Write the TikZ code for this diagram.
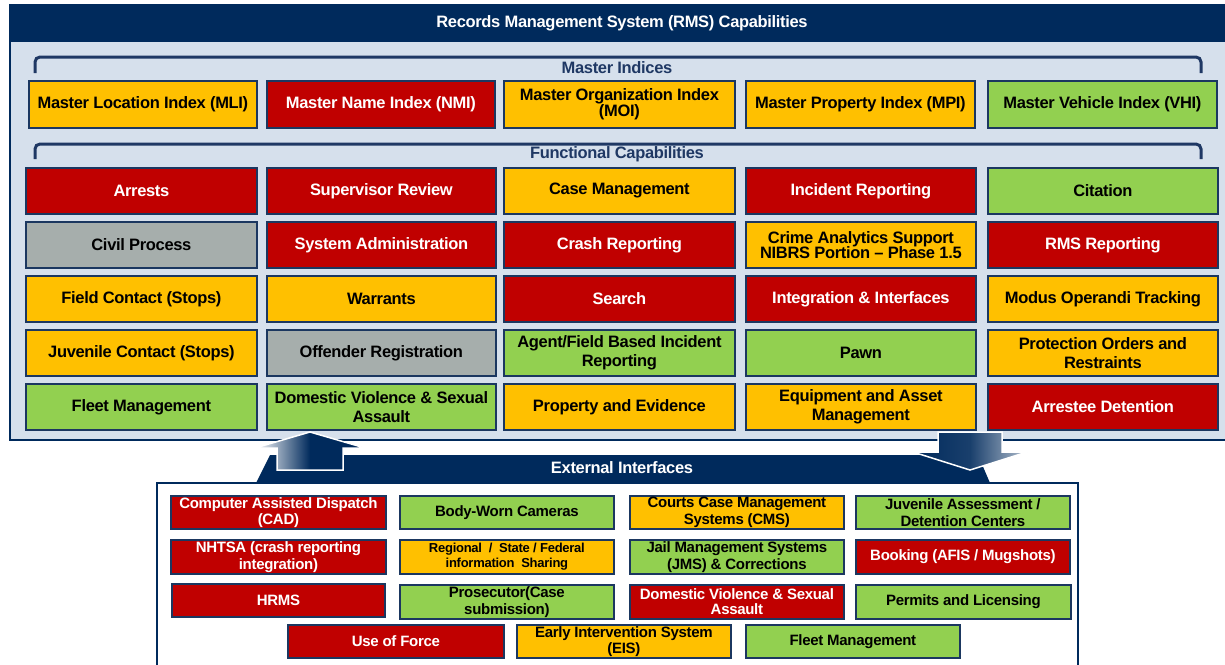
\documentclass[tikz,border=0pt]{standalone}
\usepackage{fontspec}
\setmainfont{Liberation Sans}[LetterSpace=-2]
\definecolor{redc}{HTML}{C00000}
\definecolor{yelc}{HTML}{FFC000}
\definecolor{grnc}{HTML}{92D050}
\definecolor{grayc}{HTML}{A6AEAC}
\definecolor{navyc}{HTML}{002A5C}
\definecolor{bordc}{HTML}{1B3760}
\definecolor{panelc}{HTML}{D6E0EC}
\definecolor{brkc}{HTML}{1F3864}
\newcommand\mybox[7]{\node[#1,minimum width=#5pt,minimum height=#6pt] (#2) at (#3,#4) {#7};}
\begin{document}
\begin{tikzpicture}[x=1pt,y=-1pt,
  box/.style={draw=bordc, line width=1.8pt, inner sep=0pt, align=center, anchor=north west,
    font=\bfseries\fontsize{16.5}{19.5}\selectfont},
  rbox/.style={box, fill=redc, text=white},
  ybox/.style={box, fill=yelc, text=black},
  gbox/.style={box, fill=grnc, text=black},
  gybox/.style={box, fill=grayc, text=black},
  ext/.style={font=\bfseries\fontsize{15}{16.5}\selectfont},
  tight/.style={font=\bfseries\fontsize{16.5}{15.5}\selectfont},
  title/.style={font=\bfseries\fontsize{16.5}{18}\selectfont, text=white, inner sep=0pt},
  sect/.style={font=\bfseries\fontsize{16.5}{18}\selectfont, text=brkc, inner sep=0pt},
  brk/.style={draw=brkc, line width=3pt, rounded corners=5pt},
  arrowout/.style={draw=white, line width=1.5pt}
]
\useasboundingbox (0,0) rectangle (1225,664);
% top panel
\path[fill=panelc, draw=navyc, line width=2pt] (10,5) rectangle (1228,440);
\path[fill=navyc] (10,5) rectangle (1228,42);
\node[title] (ttl) at (622,23) {Records Management System (RMS) Capabilities};
% brackets
\draw[brk] (35,73) |- (1201,57) -- (1201,73);
\node[sect] (mi) at (617,68) {Master Indices};
\draw[brk] (35,159) |- (1201,144) -- (1201,159);
\node[sect] (fc) at (617,154) {Functional Capabilities};
% master indices
\mybox{ybox}{mli}{28}{80}{228}{47}{Master Location Index (MLI)}
\mybox{rbox}{nmi}{266}{80}{228}{47}{Master Name Index (NMI)}
\mybox{ybox,tight}{moi}{503}{80}{231}{47}{Master Organization Index\\(MOI)}
\mybox{ybox}{mpi}{745}{80}{229}{47}{Master Property Index (MPI)}
\mybox{gbox}{vhi}{987}{80}{229}{47}{Master Vehicle Index (VHI)}
% functional row 1
\mybox{rbox}{f11}{25}{167}{231}{46}{Arrests}
\mybox{rbox}{f12}{266}{167}{229}{46}{Supervisor Review}
\mybox{ybox}{f13}{503}{167}{231}{46}{Case Management}
\mybox{rbox}{f14}{745}{167}{230}{46}{Incident Reporting}
\mybox{gbox}{f15}{987}{167}{230}{46}{Citation}
% row 2
\mybox{gybox}{f21}{25}{221}{231}{46}{Civil Process}
\mybox{rbox}{f22}{266}{221}{229}{46}{System Administration}
\mybox{rbox}{f23}{503}{221}{231}{46}{Crash Reporting}
\mybox{ybox,tight}{f24}{745}{221}{230}{46}{Crime Analytics Support\\NIBRS Portion -- Phase 1.5}
\mybox{rbox}{f25}{987}{221}{230}{46}{RMS Reporting}
% row 3
\mybox{ybox}{f31}{25}{275}{231}{46}{Field Contact (Stops)}
\mybox{ybox}{f32}{266}{275}{229}{46}{Warrants}
\mybox{rbox}{f33}{503}{275}{231}{46}{Search}
\mybox{rbox}{f34}{745}{275}{230}{46}{Integration \& Interfaces}
\mybox{ybox}{f35}{987}{275}{230}{46}{Modus Operandi Tracking}
% row 4
\mybox{ybox}{f41}{25}{329}{231}{46}{Juvenile Contact (Stops)}
\mybox{gybox}{f42}{266}{329}{229}{46}{Offender Registration}
\mybox{gbox}{f43}{503}{329}{231}{46}{Agent/Field Based Incident\\Reporting}
\mybox{gbox}{f44}{745}{329}{230}{46}{Pawn}
\mybox{ybox}{f45}{987}{329}{230}{46}{Protection Orders and\\Restraints}
% row 5
\mybox{gbox}{f51}{25}{383}{231}{46}{Fleet Management}
\mybox{gbox}{f52}{266}{383}{229}{46}{Domestic Violence \& Sexual\\Assault}
\mybox{ybox}{f53}{503}{383}{231}{46}{Property and Evidence}
\mybox{ybox}{f54}{745}{383}{230}{46}{Equipment and Asset\\Management}
\mybox{rbox}{f55}{987}{383}{230}{46}{Arrestee Detention}
% external panel
\path[fill=white, draw=navyc, line width=1.5pt] (157,483) rectangle (1078,670);
\path[fill=navyc] (256,483) -- (270,455) -- (978,455) -- (990,483) -- cycle;
\node[title] (ei) at (622,468) {External Interfaces};
% arrows
\path[arrowout, left color=white, right color=navyc, middle color=navyc]
  (310,432) -- (365,448) -- (343,448) -- (343,470) -- (277,470) -- (277,448) -- (255,448) -- cycle;
\path[arrowout, left color=navyc, right color=navyc!30, middle color=navyc!90]
  (938,432) -- (1002,432) -- (1002,452) -- (1027,452) -- (970,470) -- (913,452) -- (938,452) -- cycle;
% external boxes
\mybox{rbox,ext}{e11}{170}{495}{215}{33}{Computer Assisted Dispatch\\(CAD)}
\mybox{gbox,ext}{e12}{399}{495}{214}{33}{Body-Worn Cameras}
\mybox{ybox,ext}{e13}{629}{495}{214}{33}{Courts Case Management\\Systems (CMS)}
\mybox{gbox,ext}{e14}{855}{495}{214}{33}{Juvenile Assessment /\\Detention Centers}
\mybox{rbox,ext}{e21}{170}{539}{215}{34}{NHTSA (crash reporting\\integration)}
\mybox{ybox,font=\bfseries\fontsize{13}{14.5}\selectfont}{e22}{399}{539}{214}{34}{Regional \ / \ State / Federal\\information \ Sharing}
\mybox{gbox,ext}{e23}{629}{539}{214}{34}{Jail Management Systems\\(JMS) \& Corrections}
\mybox{rbox,ext}{e24}{855}{539}{214}{34}{Booking (AFIS / Mugshots)}
\mybox{rbox,ext}{e31}{171}{583}{213}{33}{HRMS}
\mybox{gbox,ext}{e32}{399}{584}{214}{34}{Prosecutor(Case\\submission)}
\mybox{rbox,ext,font=\bfseries\fontsize{15}{15}\selectfont}{e33}{629}{584}{214}{34}{Domestic Violence \& Sexual\\Assault}
\mybox{gbox,ext}{e34}{855}{584}{215}{34}{Permits and Licensing}
\mybox{rbox,ext}{e41}{287}{624}{216}{33}{Use of Force}
\mybox{ybox,ext}{e42}{516}{624}{214}{33}{Early Intervention System\\(EIS)}
\mybox{gbox,ext}{e43}{745}{624}{214}{33}{Fleet Management}
\end{tikzpicture}
\end{document}
